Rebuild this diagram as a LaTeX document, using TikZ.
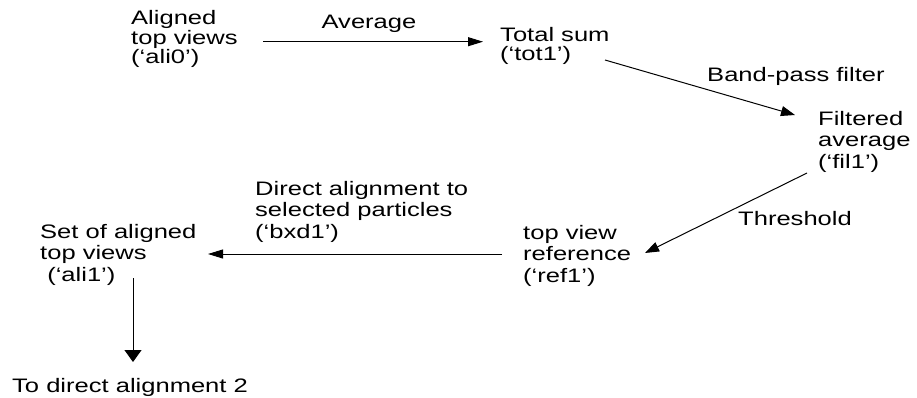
\documentclass[tikz,border=0pt]{standalone}
\usepackage{fontspec}
\setmainfont[FakeStretch=1.31]{Liberation Sans}
\usetikzlibrary{arrows.meta}
\begin{document}
\begin{tikzpicture}[x=1pt,y=-1pt,
  lbltop/.style={anchor=base west,inner sep=0pt,align=left,font=\fontsize{19.5}{19.5}\selectfont},
  lbllow/.style={anchor=base west,inner sep=0pt,align=left,font=\fontsize{19.5}{21.5}\selectfont},
  edgelbl/.style={inner sep=0pt,font=\fontsize{19.5}{20}\selectfont},
  conn/.style={line width=1pt,-{Triangle[length=14pt,width=10pt]}},
  connh/.style={line width=1pt,-{Triangle[length=15pt,width=9pt]}},
  connv/.style={line width=1pt,-{Triangle[length=12pt,width=17pt]}}
]
\useasboundingbox (0,0) rectangle (917,398);

% base anchor of a multi-line node = baseline of its last line
\node[lbltop] (ali0) at (131,64) {Aligned\\top views\\(‘ali0’)};
\node[lbltop] (tot1) at (500,61) {Total sum\\(‘tot1’)};
\node[lbllow] (fil1) at (818,168) {Filtered\\average\\(‘fil1’)};
\node[lbllow] (ref1) at (523,282) {top view\\reference\\(‘ref1’)};
\node[lbllow] (ali1) at (40,281) {Set of aligned\\top views\\\ (‘ali1’)};
\node[lbltop] (todir) at (12,392) {To direct alignment 2};

\node[edgelbl,anchor=base] (lavg) at (369,29) {Average};
\node[edgelbl,anchor=base west] (lbp) at (707,82) {Band-pass filter};
\node[edgelbl,anchor=base west] (lthr) at (738,225) {Threshold};
\node[lbllow] (lbxd) at (255,238) {Direct alignment to\\selected particles\\(‘bxd1’)};

\draw[connh] ([shift={(132,-22.3)}]ali0.base west) -- ([shift={(-17,-19.3)}]tot1.base west);
\draw[conn] ([shift={(105,-1)}]tot1.base west) -- ([shift={(-23,-53)}]fil1.base west);
\draw[conn] ([shift={(-11,5)}]fil1.base west) -- ([shift={(122,-29)}]ref1.base west);
\draw[connh] ([shift={(-21,-28)}]ref1.base west) -- ([shift={(168,-27)}]ali1.base west);
\draw[connv] ([shift={(93,-3)}]ali1.base west) -- ([shift={(121,-30)}]todir.base west);
\end{tikzpicture}
\end{document}
